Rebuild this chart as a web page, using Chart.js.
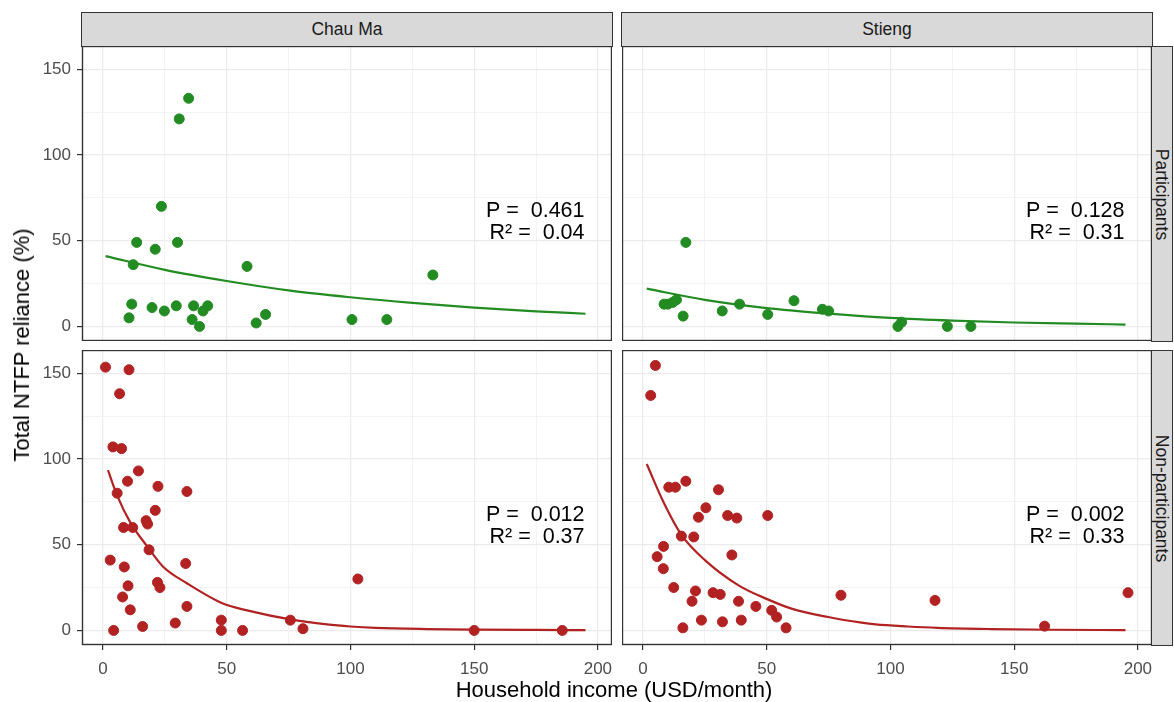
<!DOCTYPE html>
<html>
<head>
<meta charset="utf-8">
<script src="https://cdn.jsdelivr.net/npm/chart.js@4.4.0/dist/chart.umd.min.js"></script>
<style>
  body { margin: 0; background: #fff; font-family: "Liberation Sans", Arial, sans-serif; }
  #wrap { position: relative; width: 1174px; height: 702px; overflow: hidden; background: #fff; }
  canvas { position: absolute; }
  .strip { position: absolute; background: #d9d9d9; border: 1.3px solid #333; box-sizing: border-box;
           color: #1a1a1a; font-size: 17.5px; display: flex; align-items: center; justify-content: center; }
  .vtext { transform: rotate(90deg); white-space: nowrap; }
  .title { position: absolute; color: #000; font-size: 22px; white-space: nowrap; transform: translate(-50%, -50%); }
</style>
</head>
<body>
<div id="wrap">
  <div class="strip" style="left:81px;top:12px;width:532px;height:35px">Chau Ma</div>
  <div class="strip" style="left:621px;top:12px;width:532px;height:35px">Stieng</div>
  <div class="strip" style="left:1151px;top:46px;width:22px;height:296px"><span class="vtext">Participants</span></div>
  <div class="strip" style="left:1151px;top:350px;width:22px;height:296px"><span class="vtext">Non-participants</span></div>

  <canvas id="tl" width="580" height="295" style="left:32px;top:46px"></canvas>
  <canvas id="tr" width="530" height="295" style="left:622px;top:46px"></canvas>
  <canvas id="bl" width="580" height="335" style="left:32px;top:350px"></canvas>
  <canvas id="br" width="530" height="335" style="left:622px;top:350px"></canvas>

  <div class="title" style="left:614px;top:690px">Household income (USD/month)</div>
  <div class="title" style="left:22px;top:345px;transform:translate(-50%,-50%) rotate(-90deg)">Total NTFP reliance (%)</div>
</div>

<script>
// axis ticks (grid every 25, labels every 50)
const xGrid = [0, 25, 50, 75, 100, 125, 150, 175, 200];
const xMajor = [0, 50, 100, 150, 200];
const xTickLabels = ['0', '50', '100', '150', '200'];
const yGrid = [0, 25, 50, 75, 100, 125, 150];
const yMajor = [0, 50, 100, 150];
const yTickLabels = ['0', '50', '100', '150'];

// Chau Ma - participants
const cmPartX = [34.6, 30.8, 23.6, 13.6, 21.1, 30.1, 12.2, 58.2, 11.6, 10.5, 19.8, 24.8, 29.6, 36.6, 36.0, 39.0, 40.4, 42.3, 61.9, 65.7, 100.6, 114.7, 133.3];
const cmPartY = [133, 121, 70, 49, 45, 49, 36, 35, 13, 5, 11, 9, 12, 12, 4, 0, 9, 12, 2, 7, 4, 4, 30];
const cmPartFitX = [1, 25, 50, 75, 100, 125, 150, 175, 195];
const cmPartFitY = [41, 33, 26.5, 21, 17, 13.7, 11, 8.8, 7.4];

// Stieng - participants
const stPartX = [17.3, 8.5, 10, 12, 13.5, 16.2, 32, 39, 50.4, 61, 72.5, 75, 103, 104.5, 123, 132.5];
const stPartY = [49, 13, 13, 14, 15.5, 6, 9, 13, 7, 15, 10, 9, 0, 2.5, 0, 0];
const stPartFitX = [1.5, 25, 50, 75, 100, 125, 150, 175, 195];
const stPartFitY = [22, 15.5, 10.7, 7.5, 5, 3.4, 2.3, 1.6, 1.1];

// Chau Ma - non-participants
const cmNonX = [1, 10.5, 6.7, 4, 7.5, 14.3, 9.9, 5.7, 22.2, 33.9, 21.1, 17.4, 18, 8.3, 12, 18.6, 2.9, 8.6, 33.4, 10.1, 22, 23, 7.9, 33.9, 11, 16, 29.2, 4.3, 47.8, 47.8, 56.4, 75.7, 80.8, 103, 150, 185.6];
const cmNonY = [153.5, 152, 138, 107, 106, 93, 87, 80, 84, 81, 70, 64, 62, 60, 60, 47, 41, 37, 39, 26, 28, 25, 19.5, 14, 12, 2.3, 4.3, 0, 6, 0, 0, 6, 1, 30, 0, 0];
const cmNonFitX = [2, 5.6, 11, 18.4, 24.4, 33.9, 48.7, 58.2, 75.7, 90.5, 100, 110, 131, 150, 175, 195];
const cmNonFitY = [93.5, 79, 63, 48, 37, 27.5, 15.5, 11.7, 6.4, 3.5, 2.3, 1.5, 0.8, 0.5, 0.3, 0.2];

// Stieng - non-participants
const stNonX = [5, 3.1, 10.4, 13.1, 17.3, 30.5, 25.4, 22.4, 34.2, 37.9, 50.4, 15.5, 20.5, 8.3, 5.7, 35.9, 8.2, 12.4, 21.2, 28.3, 31.2, 19.8, 38.6, 45.6, 52, 54, 80, 23.6, 32.1, 39.7, 16.1, 57.8, 118, 162.3, 196];
const stNonY = [154.5, 137, 83.5, 83.5, 87, 82, 71.5, 66, 67, 65.5, 67, 55, 54.5, 49, 43, 44, 36, 25, 23, 22, 21, 17, 17, 14, 11.7, 7.8, 20.5, 6, 5, 6, 1.5, 1.5, 17.5, 2.5, 22];
const stNonFitX = [1.5, 8.2, 15.6, 25, 38.6, 50.4, 60, 74.8, 88.3, 94, 107, 119, 141, 165, 195];
const stNonFitY = [97, 75, 55.5, 41, 26.3, 18.1, 12.7, 7.8, 4.5, 3.5, 2.3, 1.5, 0.8, 0.4, 0.2];

// model stats per panel
const pValues = ['0.461', '0.128', '0.012', '0.002'];
const r2Values = ['0.04', '0.31', '0.37', '0.33'];

const FONT = '"Liberation Sans", Arial, sans-serif';
const GREEN = '#228b22';
const RED = '#b22222';

// draws the P / R² text and the panel border
const panelDeco = {
  id: 'panelDeco',
  afterDraw(chart, args, opts) {
    const { ctx, chartArea: a, scales } = chart;
    ctx.save();
    ctx.fillStyle = '#000';
    ctx.font = '21.5px ' + FONT;
    ctx.textAlign = 'right';
    ctx.textBaseline = 'middle';
    const tx = scales.x.getPixelForValue(194.6);
    ctx.fillText('P =  ' + opts.p, tx, scales.y.getPixelForValue(67.5));
    ctx.fillText('R\u00b2 =  ' + opts.r2, tx, scales.y.getPixelForValue(54.5));
    ctx.strokeStyle = '#333';
    ctx.lineWidth = 1.4;
    ctx.strokeRect(a.left + 0.5, a.top + 0.5, a.width - 1, a.height - 1);
    ctx.restore();
  }
};

function makePanel(id, xs, ys, fitX, fitY, color, idx, showX, showY) {
  const pts = xs.map((x, i) => ({ x: x, y: ys[i] }));
  const fit = fitX.map((x, i) => ({ x: x, y: fitY[i] }));
  new Chart(document.getElementById(id), {
    type: 'scatter',
    data: {
      datasets: [
        { data: pts, backgroundColor: color, borderColor: color, pointRadius: 5, pointHoverRadius: 5, order: 1 },
        { data: fit, showLine: true, borderColor: color, borderWidth: 2.2, pointRadius: 0,
          cubicInterpolationMode: 'monotone', order: 2 }
      ]
    },
    options: {
      responsive: false,
      animation: false,
      devicePixelRatio: 1,
      layout: { padding: 0, autoPadding: false },
      plugins: {
        legend: { display: false },
        tooltip: { enabled: false },
        panelDeco: { p: pValues[idx], r2: r2Values[idx] }
      },
      scales: {
        x: {
          type: 'linear', min: -8.5, max: 205.7,
          afterBuildTicks: s => { s.ticks = xGrid.map(v => ({ value: v })); },
          afterFit: s => { s.height = showX ? 40 : 0; s.paddingLeft = 0; s.paddingRight = 0; },
          border: { display: false },
          grid: {
            color: '#ebebeb',
            lineWidth: c => (c.tick && xMajor.includes(c.tick.value)) ? 1.2 : 0.6,
            drawTicks: showX,
            tickLength: 5,
            tickColor: c => (c.tick && xMajor.includes(c.tick.value)) ? '#333' : 'rgba(0,0,0,0)'
          },
          ticks: {
            display: showX, autoSkip: false, maxRotation: 0, padding: 9,
            color: '#4d4d4d', font: { family: FONT, size: 17 },
            callback: v => xMajor.includes(v) ? xTickLabels[xMajor.indexOf(v)] : ''
          }
        },
        y: {
          type: 'linear', min: -8.5, max: 163.5,
          afterBuildTicks: s => { s.ticks = yGrid.map(v => ({ value: v })); },
          afterFit: s => { s.width = showY ? 50 : 0; s.paddingTop = 0; s.paddingBottom = 0; },
          border: { display: false },
          grid: {
            color: '#ebebeb',
            lineWidth: c => (c.tick && yMajor.includes(c.tick.value)) ? 1.2 : 0.6,
            drawTicks: showY,
            tickLength: 5,
            tickColor: c => (c.tick && yMajor.includes(c.tick.value)) ? '#333' : 'rgba(0,0,0,0)'
          },
          ticks: {
            display: showY, autoSkip: false, padding: 6,
            color: '#4d4d4d', font: { family: FONT, size: 17 },
            callback: v => yMajor.includes(v) ? yTickLabels[yMajor.indexOf(v)] : ''
          }
        }
      }
    },
    plugins: [panelDeco]
  });
}

makePanel('tl', cmPartX, cmPartY, cmPartFitX, cmPartFitY, GREEN, 0, false, true);
makePanel('tr', stPartX, stPartY, stPartFitX, stPartFitY, GREEN, 1, false, false);
makePanel('bl', cmNonX, cmNonY, cmNonFitX, cmNonFitY, RED, 2, true, true);
makePanel('br', stNonX, stNonY, stNonFitX, stNonFitY, RED, 3, true, false);
</script>
</body>
</html>
